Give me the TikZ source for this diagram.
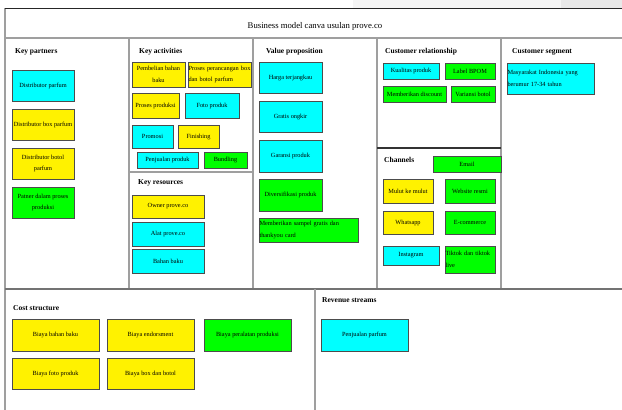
\documentclass[tikz,border=0pt]{standalone}
\usepackage{fontspec}
\setmainfont{Liberation Serif}
\definecolor{aqua}{RGB}{0,255,255}

\begin{document}
\begin{tikzpicture}[x=1pt, y=-1pt,
    frame/.style={draw=gray!75, line width=1.3pt},
    box/.style={draw=black!70, line width=0.6pt, inner sep=0.5pt, align=center,
      font=\fontsize{6.3}{11.5}\selectfont},
    cyanbox/.style={box, fill=aqua},
    yellowbox/.style={box, fill=yellow},
    greenbox/.style={box, fill=green},
    head/.style={anchor=west, inner sep=0pt, font=\fontsize{7.5}{9}\selectfont\bfseries}]
  \useasboundingbox (0,0) rectangle (622,410);
  \fill[gray!8] (353,0) rectangle (561,8);
  \fill[gray!18] (561,0) rectangle (622,8);
  % Draw the canvas frame
  \draw[frame] (5,38) -- (622,38);
  \draw[frame] (5,8) -- (5,410);
  \draw[frame] (129,38) -- (129,289);
  \draw[frame] (253,38) -- (253,289);
  \draw[frame] (377,38) -- (377,289);
  \draw[frame] (501,38) -- (501,289);
  \draw[frame] (129,172) -- (253,172);
  \draw[frame, draw=black!80] (377,148) -- (501,148);
  \draw[frame, draw=gray!90!black] (5,289) -- (622,289);
  \draw[frame] (315,289) -- (315,410);
  \draw[black!85, line width=1pt] (5,8) -- (622,8);
  \node[font=\fontsize{8.7}{10}\selectfont] (title) at (315,26) {Business model canva usulan prove.co};
  % Section headings
  \node[head] (kp) at (15,52) {Key partners};
  \node[head] (ka) at (139,52) {Key activities};
  \node[head] (kr) at (138,183) {Key resources};
  \node[head] (vp) at (266,52) {Value proposition};
  \node[head] (cr) at (385,52) {Customer relationship};
  \node[head] (ch) at (384,160) {Channels};
  \node[head] (cs) at (512,52) {Customer segment};
  \node[head] (co) at (13,308) {Cost structure};
  \node[head] (rs) at (322,300) {Revenue streams};
  % Key partners
  \node[cyanbox, minimum width=62, minimum height=31] (kp1) at (43,85.5) {Distributor parfum};
  \node[yellowbox, minimum width=62, minimum height=31] (kp2) at (43,124.5) {Distributor box parfum};
  \node[yellowbox, minimum width=62, minimum height=31] (kp3) at (43,163.5) {Distributor botol\\parfum};
  \node[greenbox, minimum width=62, minimum height=31] (kp4) at (43,202.5) {Patner dalam proses\\produksi};
  % Key activities
  \node[yellowbox, minimum width=53, minimum height=25] (ka1) at (158.5,74.5) {Pembelian bahan\\baku};
  \node[yellowbox, minimum width=63, minimum height=25, text width=62, align=left] (ka2) at (219.5,74.5) {Proses perancangan box\\dan botol parfum};
  \node[yellowbox, minimum width=47, minimum height=25] (ka3) at (155.5,105.5) {Proses produksi};
  \node[cyanbox, minimum width=54, minimum height=25] (ka4) at (212,105.5) {Foto produk};
  \node[cyanbox, minimum width=41, minimum height=23] (ka5) at (152.5,136.5) {Promosi};
  \node[yellowbox, minimum width=41, minimum height=23] (ka6) at (198.5,136.5) {Finishing};
  \node[cyanbox, minimum width=61, minimum height=16] (ka7) at (167.5,160) {Penjualan produk};
  \node[greenbox, minimum width=43, minimum height=16] (ka8) at (225.5,160) {Bundling};
  % Key resources
  \node[yellowbox, minimum width=72, minimum height=23] (kr1) at (168,206.5) {Owner prove.co};
  \node[cyanbox, minimum width=72, minimum height=24] (kr2) at (168,234) {Alat prove.co};
  \node[cyanbox, minimum width=72, minimum height=24] (kr3) at (168,261) {Bahan baku};
  % Value proposition
  \node[cyanbox, minimum width=63, minimum height=31] (vp1) at (290.5,77.5) {Harga terjangkau};
  \node[cyanbox, minimum width=63, minimum height=31] (vp2) at (290.5,116.5) {Gratis ongkir};
  \node[cyanbox, minimum width=63, minimum height=32] (vp3) at (290.5,156) {Garansi produk};
  \node[greenbox, minimum width=63, minimum height=32] (vp4) at (290.5,195) {Diversifikasi produk};
  \node[greenbox, minimum width=99, minimum height=24, text width=98, align=left] (vp5) at (308.5,230) {Memberikan sampel gratis dan\\thankyou card};
  % Customer relationship
  \node[cyanbox, minimum width=56, minimum height=16] (cr1) at (411,71) {Kualitas produk};
  \node[greenbox, minimum width=50, minimum height=16] (cr2) at (470,71) {Label BPOM};
  \node[greenbox, minimum width=63, minimum height=16] (cr3) at (414.5,94) {Memberikan discount};
  \node[greenbox, minimum width=44, minimum height=16] (cr4) at (473,94) {Variansi botol};
  % Channels
  \node[greenbox, minimum width=68, minimum height=16] (ch1) at (467,164) {Email};
  \node[yellowbox, minimum width=50, minimum height=24] (ch2) at (408,191) {Mulut ke mulut};
  \node[greenbox, minimum width=50, minimum height=24] (ch3) at (470,191) {Website resmi};
  \node[yellowbox, minimum width=50, minimum height=23] (ch4) at (408,222.5) {Whatsapp};
  \node[greenbox, minimum width=50, minimum height=23] (ch5) at (470,222.5) {E-commerce};
  \node[cyanbox, minimum width=56, minimum height=19] (ch6) at (411,255.5) {Instagram};
  \node[greenbox, minimum width=50, minimum height=27, text width=49, align=left] (ch7) at (470,259.5) {Tiktok dan tiktok\\live};
  % Customer segment
  \node[cyanbox, minimum width=87, minimum height=31, text width=86, align=left] (cs1) at (550.5,78.5) {Masyarakat Indonesia yang\\berumur 17-34 tahun};
  % Cost structure
  \node[yellowbox, minimum width=87, minimum height=32] (co1) at (55.5,335) {Biaya bahan baku};
  \node[yellowbox, minimum width=87, minimum height=32] (co2) at (150.5,335) {Biaya endorsment};
  \node[greenbox, minimum width=87, minimum height=32] (co3) at (247.5,335) {Biaya peralatan produksi};
  \node[yellowbox, minimum width=87, minimum height=31] (co4) at (55.5,373.5) {Biaya foto produk};
  \node[yellowbox, minimum width=87, minimum height=31] (co5) at (150.5,373.5) {Biaya box dan botol};
  % Revenue streams
  \node[cyanbox, minimum width=87, minimum height=32] (rs1) at (364.5,335) {Penjualan parfum};
\end{tikzpicture}
\end{document}
